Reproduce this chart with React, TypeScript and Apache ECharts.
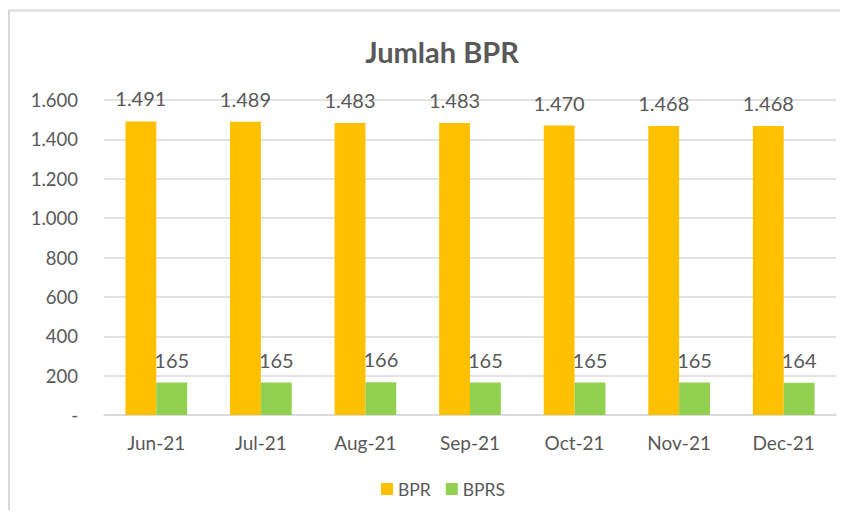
import React, { useEffect, useRef } from "react";
import * as echarts from "echarts";

const categories = ["Jun-21", "Jul-21", "Aug-21", "Sep-21", "Oct-21", "Nov-21", "Dec-21"];
const bprValues = [1491, 1489, 1483, 1483, 1470, 1468, 1468];
const bprsValues = [165, 165, 166, 165, 165, 165, 164];

const FONT = "Lato, 'Open Sans', sans-serif";
const TXT = "#595959";

function fmt(v: number): string {
  if (v === 0) return "-";
  return String(v).replace(/\B(?=(\d{3})+(?!\d))/g, ".");
}

export default function App() {
  const ref = useRef<HTMLDivElement>(null);
  useEffect(() => {
    if (!ref.current) return;
    const chart = echarts.init(ref.current, undefined, { renderer: "svg" });
    const dataLabel = {
      show: true,
      position: "top",
      distance: 13,
      fontFamily: FONT,
      fontSize: 20,
      color: TXT,
      formatter: (p: any) => fmt(p.value),
    };
    chart.setOption({
      animation: false,
      backgroundColor: "#ffffff",
      textStyle: { fontFamily: FONT },
      graphic: [
        {
          type: "rect",
          shape: { x: 9, y: 10.5, width: 860, height: 520 },
          style: { fill: "none", stroke: "#D9D9D9", lineWidth: 2 },
          silent: true,
        },
      ],
      title: {
        text: "Jumlah BPR",
        left: 437,
        top: 32,
        textAlign: "center",
        textStyle: { fontFamily: FONT, fontSize: 29, fontWeight: "bold", color: TXT },
      },
      legend: {
        data: ["BPR", "BPRS"],
        bottom: 15,
        left: 376,
        itemWidth: 12,
        itemHeight: 12,
        itemGap: 15,
        icon: "rect",
        textStyle: { fontFamily: FONT, fontSize: 17.5, color: TXT },
      },
      grid: { left: 104, right: 12, top: 100, bottom: 103, containLabel: false },
      xAxis: {
        type: "category",
        data: categories,
        axisLine: { lineStyle: { color: "#D9D9D9", width: 1.5 } },
        axisTick: { show: false },
        axisLabel: { fontFamily: FONT, fontSize: 19, color: TXT, margin: 18 },
      },
      yAxis: {
        type: "value",
        min: 0,
        max: 1600,
        interval: 200,
        axisLine: { show: false },
        axisTick: { show: false },
        splitLine: { lineStyle: { color: "#D9D9D9", width: 1.5 } },
        axisLabel: { fontFamily: FONT, fontSize: 18.5, color: TXT, margin: 26, formatter: (v: number) => fmt(v) },
      },
      series: [
        {
          name: "BPR",
          type: "bar",
          data: bprValues,
          barGap: "0%",
          barCategoryGap: "41%",
          itemStyle: { color: "#FFC000" },
          label: dataLabel,
        },
        {
          name: "BPRS",
          type: "bar",
          data: bprsValues,
          itemStyle: { color: "#92D050" },
          label: dataLabel,
        },
      ],
    });
    return () => chart.dispose();
  }, []);
  return <div ref={ref} style={{ width: 848, height: 518, margin: -8 }} />;
}
